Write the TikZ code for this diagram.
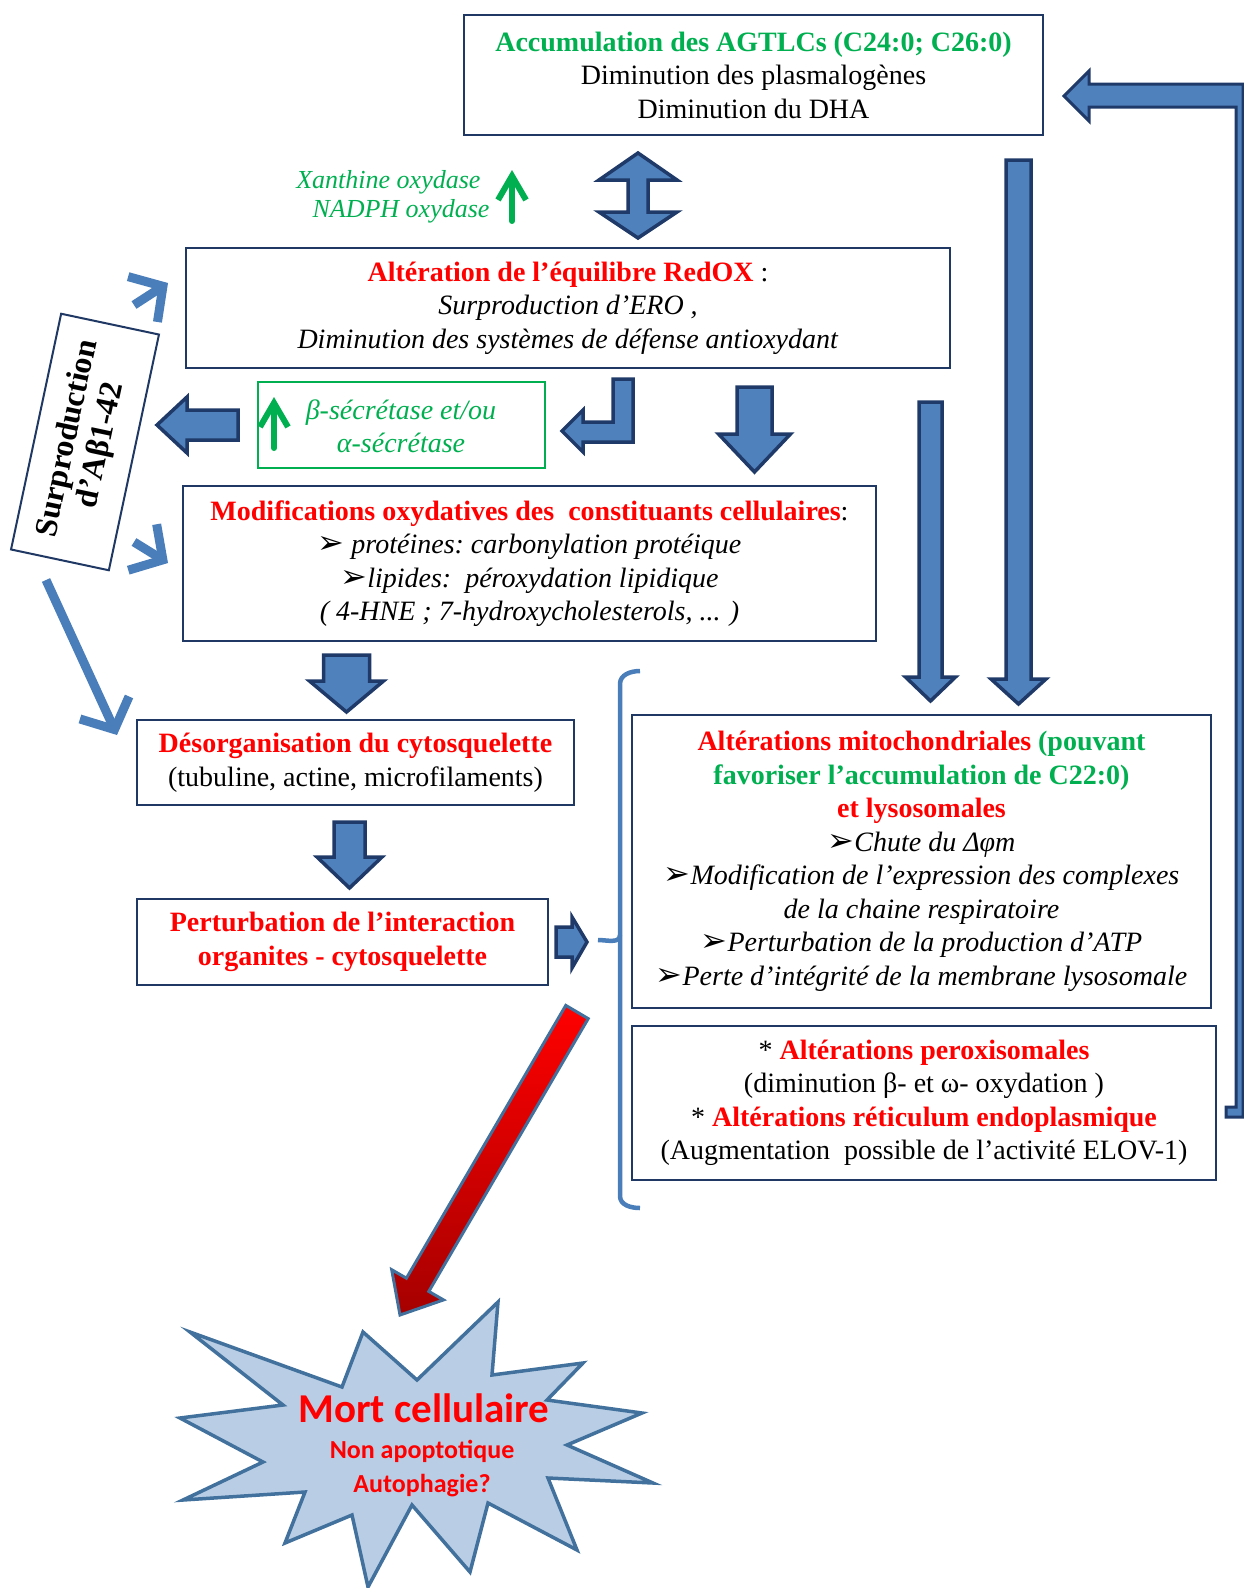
\documentclass[tikz,border=0pt]{standalone}
\usepackage{fontspec}
\setmainfont{Liberation Serif}
\newfontfamily\symfont{DejaVu Sans}
\newfontfamily\calfont{Carlito}
\usetikzlibrary{arrows.meta}
\definecolor{boxblue}{HTML}{1F3864}
\definecolor{blockfill}{HTML}{4F81BD}
\definecolor{blockline}{HTML}{1F3A68}
\definecolor{lightarr}{HTML}{4A7EBB}
\definecolor{offgreen}{HTML}{00B050}
\definecolor{starfill}{HTML}{B9CDE5}
\definecolor{starline}{HTML}{41719C}
\newcommand{\pointer}{{\symfont\fontsize{32}{24}\selectfont ➢}}
\newcommand{\rb}[1]{\textcolor{red}{\textbf{#1}}}
\newcommand{\gb}[1]{\textcolor{offgreen}{\textbf{#1}}}
% block arrow pointing down: x, top, head start, tip, half shaft, half head
\newcommand{\downblock}[6]{%
  \draw[blockarr] (#1-#5,#2) -- (#1+#5,#2) -- (#1+#5,#3) -- (#1+#6,#3) -- (#1,#4)
    -- (#1-#6,#3) -- (#1-#5,#3) -- cycle;}

\begin{document}
\begin{tikzpicture}[x=1pt, y=-1pt,
    box/.style={draw=boxblue, line width=2.5pt, fill=white, align=center, inner sep=0pt,
      font=\fontsize{28}{33.5}\selectfont},
    blockarr/.style={draw=blockline, line width=3.5pt, fill=blockfill, line join=miter},
    lightarrow/.style={draw=lightarr, line width=9pt, -{Straight Barb[length=24pt,width=54pt]}},
    greenarrow/.style={draw=offgreen, line width=6pt, line cap=round,
      -{Straight Barb[length=24pt,width=28pt]}}]
\useasboundingbox (0,0) rectangle (1243,1588);

% boxes
\node[box, minimum width=579pt, minimum height=120pt] (lipids) at (753.5,75)
  {\gb{Accumulation des AGTLCs (C24:0; C26:0)}\\Diminution des plasmalogènes\\Diminution du DHA};
\node[box, minimum width=764pt, minimum height=120pt] (redox) at (568,308)
  {\rb{Altération de l’équilibre RedOX} :\\\textit{Surproduction d’ERO ,}\\\textit{Diminution des systèmes de défense antioxydant}};
\node[box, draw=offgreen, line width=2pt, minimum width=287pt, minimum height=86pt] (secretase) at (401.5,425) {};
\node[font=\fontsize{28}{33.5}\selectfont\itshape, text=offgreen, align=center] (sectext) at (401,426.5)
  {β-sécrétase et/ou\\α-sécrétase};
\node[box, minimum width=693pt, minimum height=155pt] (oxmod) at (529.5,563.5)
  {\rb{Modifications oxydatives des\ \ constituants cellulaires}:\\
   \pointer\ \textit{protéines:\ carbonylation protéique}\\
   \pointer\textit{lipides:\ \ péroxydation lipidique}\\
   \textit{( 4-HNE ; 7-hydroxycholesterols, ... )}};
\node[box, minimum width=437pt, minimum height=85pt] (cytosq) at (355.5,762.5)
  {\rb{Désorganisation du cytosquelette}\\(tubuline, actine, microfilaments)};
\node[box, minimum width=411pt, minimum height=86pt] (interact) at (342.5,942)
  {\rb{Perturbation de l’interaction}\\\rb{organites - cytosquelette}};
\node[box, minimum width=579pt, minimum height=293pt] (mito) at (921.5,861.5)
  {\rb{Altérations mitochondriales} \gb{(pouvant}\\\gb{favoriser l’accumulation de C22:0)}\\\rb{et lysosomales}\\
   \pointer\textit{Chute du Δφm}\\\pointer\textit{Modification de l’expression des complexes}\\
   \textit{de la chaine respiratoire}\\\pointer\textit{Perturbation de la production d’ATP}\\
   \pointer\textit{Perte d’intégrité de la membrane lysosomale}};
\node[box, minimum width=584pt, minimum height=154pt] (perox) at (924,1103)
  {* \rb{Altérations peroxisomales}\\(diminution β- et ω- oxydation )\\
   * \rb{Altérations réticulum endoplasmique}\\(Augmentation\ \ possible de l’activité ELOV-1)};
\node[draw=boxblue, line width=2pt, fill=white, rotate=78, minimum width=241pt, minimum height=100pt,
  align=center, inner sep=0pt, font=\fontsize{32}{34}\selectfont\bfseries] (abeta) at (85,442)
  {Surproduction\\d’Aβ1-42};

% enzymes
\node[font=\fontsize{26}{30}\selectfont\itshape, text=offgreen, anchor=east] (xo) at (484,182) {Xanthine oxydase};
\node[font=\fontsize{26}{30}\selectfont\itshape, text=offgreen, anchor=east] (nadph) at (493,211) {NADPH oxydase};
\coordinate (xobot) at (512,221);
\coordinate (xotop) at (512,170);
\draw[greenarrow] (xobot) -- (xotop);
\coordinate (secbot) at (274,448);
\coordinate (sectop) at (274,397);
\draw[greenarrow] (secbot) -- (sectop);

% block arrows
\draw[blockarr] (638,153) -- (677,180) -- (648,180) -- (648,212) -- (677,212) -- (638,238)
  -- (599,212) -- (628,212) -- (628,180) -- (599,180) -- cycle;
\draw[blockarr] (157,425) -- (187,397) -- (187,410) -- (238,410) -- (238,440) -- (187,440) -- (187,453) -- cycle;
\draw[blockarr] (613,379) -- (633,379) -- (633,442) -- (583,442) -- (583,452) -- (562,431)
  -- (583,410) -- (583,422) -- (613,422) -- cycle;
\downblock{754.5}{387}{434}{472}{17.5}{36}
\downblock{346.5}{655}{681}{712}{23}{37}
\downblock{349.5}{822}{857}{888}{15.5}{32.5}
\downblock{930.5}{402}{677}{701}{11.5}{25}
\downblock{1018.5}{160}{679}{704}{12.5}{27.5}
\draw[blockarr] (556,927) -- (572,927) -- (572,917) -- (587,942) -- (572,968) -- (572,957) -- (556,957) -- cycle;
% feedback
\draw[blockarr, line width=3pt] (1064,96) -- (1089,71) -- (1089,84) -- (1243,84) -- (1243,1117) -- (1226,1117)
  -- (1226,1107) -- (1236,1107) -- (1236,107) -- (1089,107) -- (1089,121) -- cycle;

% light arrows from Abeta
\coordinate (a1) at (134,305);
\coordinate (a1tip) at (168,283);
\coordinate (a2) at (134,542);
\coordinate (a2tip) at (168,563);
\coordinate (a3) at (46,580);
\coordinate (a3tip) at (117,735);
\draw[lightarrow] (a1) -- (a1tip);
\draw[lightarrow] (a2) -- (a2tip);
\draw[lightarrow] (a3) -- (a3tip);

% brace
\draw[draw=lightarr, line width=4.5pt] (640,671) to[out=180,in=90] (620,684) -- (620,1196) to[out=-90,in=180] (640,1208);
\draw[draw=lightarr, line width=4.5pt] (598,940) to[out=0,in=-90] (620,935);

% cell death
\draw[draw=starline, line width=3.5pt, fill=starfill, line join=miter] (190,1332) -- (342,1387) -- (363,1332) -- (417,1380)
  -- (498,1302) -- (492,1375) -- (583,1363) -- (547,1400) -- (642,1413) -- (567,1445) -- (653,1483)
  -- (548,1478) -- (577,1550) -- (488,1503) -- (470,1572) -- (412,1505) -- (368,1587) -- (352,1515)
  -- (285,1543) -- (305,1492) -- (183,1500) -- (263,1462) -- (180,1418) -- (283,1405) -- cycle;
\node[font=\calfont\bfseries\fontsize{41}{44}\selectfont, text=red] (mort) at (424,1408) {Mort cellulaire};
\node[font=\calfont\bfseries\fontsize{26}{34}\selectfont, text=red, align=center] (mortsub) at (422,1469)
  {Non apoptotique\\Autophagie?};
\draw[draw=starline, line width=3pt, top color=red, bottom color=red!65!black]
  (400,1315) -- (443.5,1299.9) -- (428.8,1291.4) -- (588.2,1018.6) -- (565.8,1005.4)
  -- (406.4,1278.2) -- (391.7,1269.7) -- cycle;
\end{tikzpicture}
\end{document}
